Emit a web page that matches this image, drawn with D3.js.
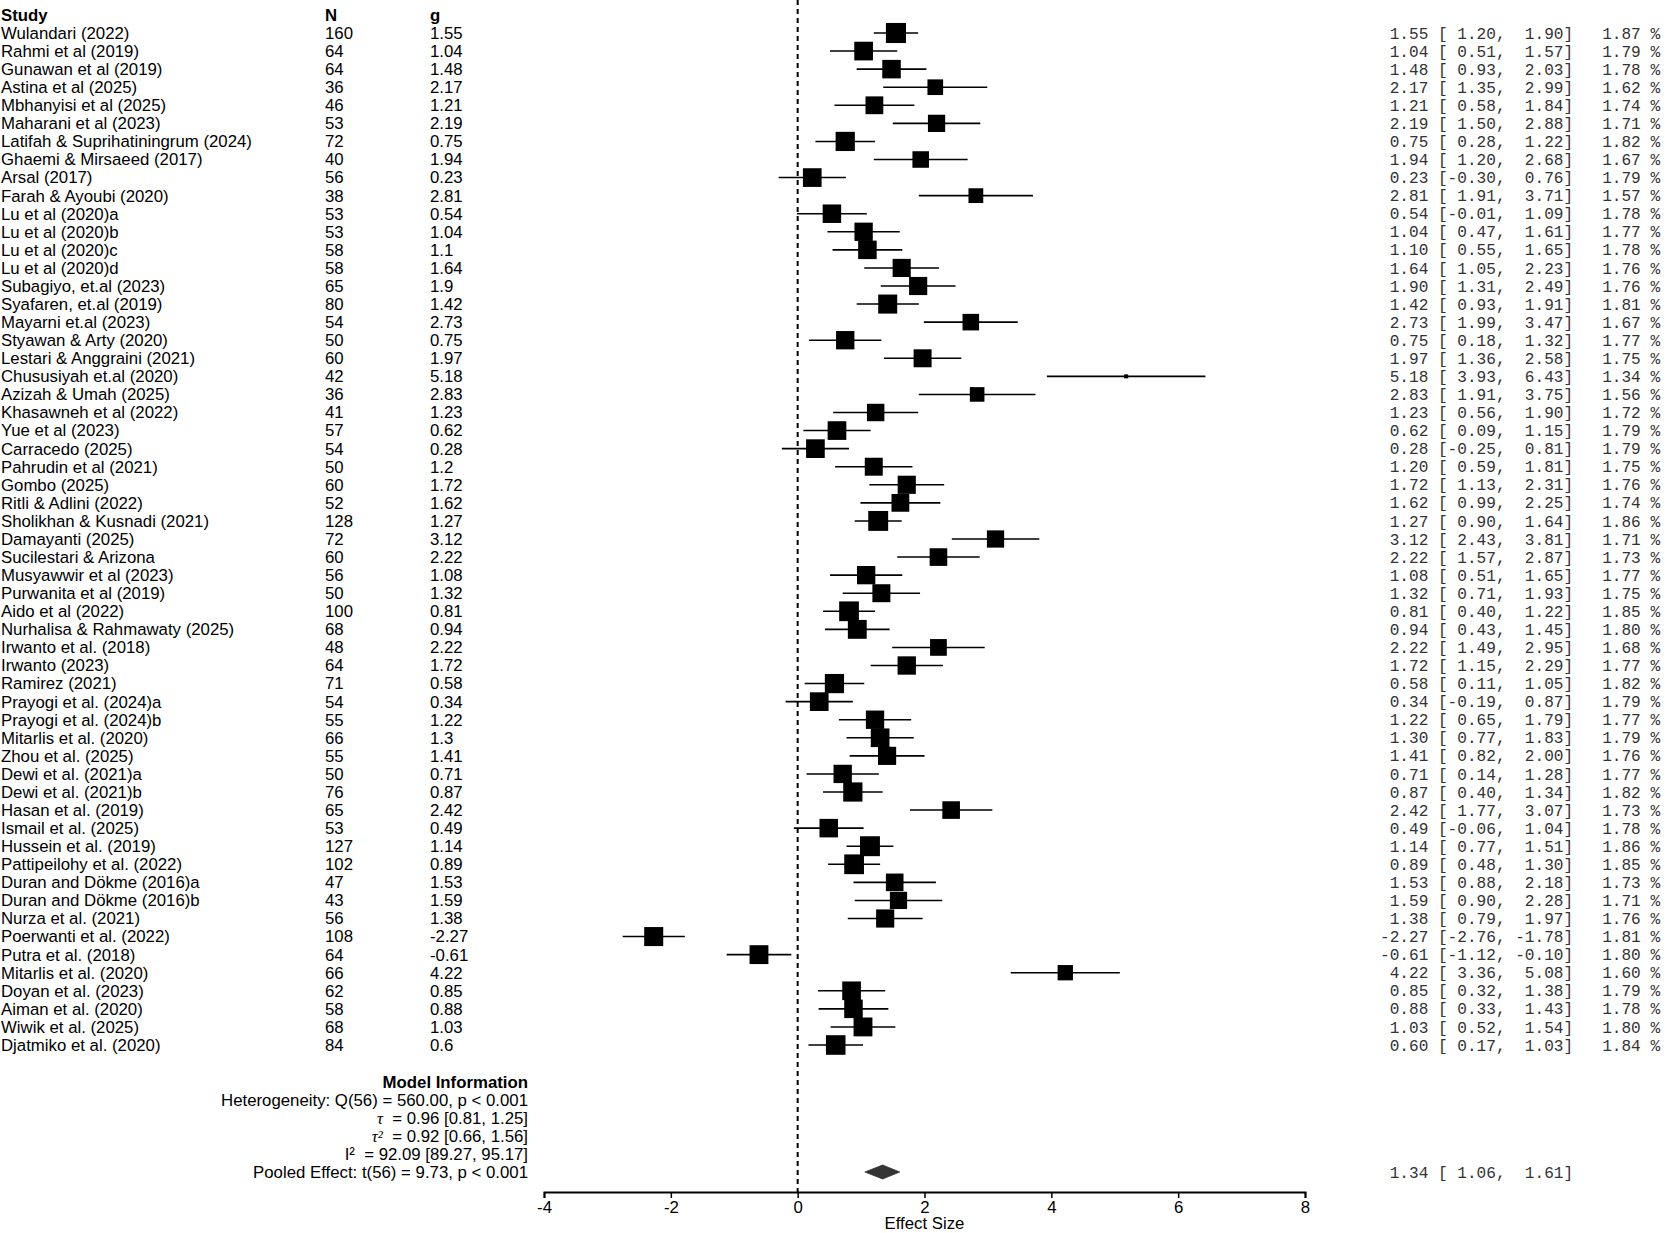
<!DOCTYPE html>
<html>
<head>
<meta charset="utf-8">
<script src="https://cdn.jsdelivr.net/npm/d3@7"></script>
<style>
  body { margin: 0; background: #fff; }
  svg { display: block; }
</style>
</head>
<body>
<svg id="forest" width="1665" height="1233" viewBox="0 0 1665 1233"></svg>
<script>
const studies = [
  "Wulandari (2022)", "Rahmi et al (2019)", "Gunawan et al (2019)", "Astina et al (2025)",
  "Mbhanyisi et al (2025)", "Maharani et al (2023)", "Latifah & Suprihatiningrum (2024)",
  "Ghaemi & Mirsaeed (2017)", "Arsal (2017)", "Farah & Ayoubi (2020)", "Lu et al (2020)a",
  "Lu et al (2020)b", "Lu et al (2020)c", "Lu et al (2020)d", "Subagiyo, et.al (2023)",
  "Syafaren, et.al (2019)", "Mayarni et.al (2023)", "Styawan & Arty (2020)",
  "Lestari & Anggraini (2021)", "Chususiyah et.al (2020)", "Azizah & Umah (2025)",
  "Khasawneh et al (2022)", "Yue et al (2023)", "Carracedo (2025)", "Pahrudin et al (2021)",
  "Gombo (2025)", "Ritli & Adlini (2022)", "Sholikhan & Kusnadi (2021)", "Damayanti (2025)",
  "Sucilestari & Arizona", "Musyawwir et al (2023)", "Purwanita et al (2019)", "Aido et al (2022)",
  "Nurhalisa & Rahmawaty (2025)", "Irwanto et al. (2018)", "Irwanto (2023)", "Ramirez (2021)",
  "Prayogi et al. (2024)a", "Prayogi et al. (2024)b", "Mitarlis et al. (2020)", "Zhou et al. (2025)",
  "Dewi et al. (2021)a", "Dewi et al. (2021)b", "Hasan et al. (2019)", "Ismail et al. (2025)",
  "Hussein et al. (2019)", "Pattipeilohy et al. (2022)", "Duran and Dökme (2016)a",
  "Duran and Dökme (2016)b", "Nurza et al. (2021)", "Poerwanti et al. (2022)", "Putra et al. (2018)",
  "Mitarlis et al. (2020)", "Doyan et al. (2023)", "Aiman et al. (2020)", "Wiwik et al. (2025)",
  "Djatmiko et al. (2020)"
];
const nValues = [160, 64, 64, 36, 46, 53, 72, 40, 56, 38, 53, 53, 58, 58, 65, 80, 54, 50, 60, 42,
  36, 41, 57, 54, 50, 60, 52, 128, 72, 60, 56, 50, 100, 68, 48, 64, 71, 54, 55, 66, 55, 50, 76,
  65, 53, 127, 102, 47, 43, 56, 108, 64, 66, 62, 58, 68, 84];
const gValues = [1.55, 1.04, 1.48, 2.17, 1.21, 2.19, 0.75, 1.94, 0.23, 2.81, 0.54, 1.04, 1.1, 1.64,
  1.9, 1.42, 2.73, 0.75, 1.97, 5.18, 2.83, 1.23, 0.62, 0.28, 1.2, 1.72, 1.62, 1.27, 3.12, 2.22,
  1.08, 1.32, 0.81, 0.94, 2.22, 1.72, 0.58, 0.34, 1.22, 1.3, 1.41, 0.71, 0.87, 2.42, 0.49, 1.14,
  0.89, 1.53, 1.59, 1.38, -2.27, -0.61, 4.22, 0.85, 0.88, 1.03, 0.6];
const ciLower = [1.20, 0.51, 0.93, 1.35, 0.58, 1.50, 0.28, 1.20, -0.30, 1.91, -0.01, 0.47, 0.55,
  1.05, 1.31, 0.93, 1.99, 0.18, 1.36, 3.93, 1.91, 0.56, 0.09, -0.25, 0.59, 1.13, 0.99, 0.90, 2.43,
  1.57, 0.51, 0.71, 0.40, 0.43, 1.49, 1.15, 0.11, -0.19, 0.65, 0.77, 0.82, 0.14, 0.40, 1.77, -0.06,
  0.77, 0.48, 0.88, 0.90, 0.79, -2.76, -1.12, 3.36, 0.32, 0.33, 0.52, 0.17];
const ciUpper = [1.90, 1.57, 2.03, 2.99, 1.84, 2.88, 1.22, 2.68, 0.76, 3.71, 1.09, 1.61, 1.65,
  2.23, 2.49, 1.91, 3.47, 1.32, 2.58, 6.43, 3.75, 1.90, 1.15, 0.81, 1.81, 2.31, 2.25, 1.64, 3.81,
  2.87, 1.65, 1.93, 1.22, 1.45, 2.95, 2.29, 1.05, 0.87, 1.79, 1.83, 2.00, 1.28, 1.34, 3.07, 1.04,
  1.51, 1.30, 2.18, 2.28, 1.97, -1.78, -0.10, 5.08, 1.38, 1.43, 1.54, 1.03];
const weights = [1.87, 1.79, 1.78, 1.62, 1.74, 1.71, 1.82, 1.67, 1.79, 1.57, 1.78, 1.77, 1.78,
  1.76, 1.76, 1.81, 1.67, 1.77, 1.75, 1.34, 1.56, 1.72, 1.79, 1.79, 1.75, 1.76, 1.74, 1.86, 1.71,
  1.73, 1.77, 1.75, 1.85, 1.80, 1.68, 1.77, 1.82, 1.79, 1.77, 1.79, 1.76, 1.77, 1.82, 1.73, 1.78,
  1.86, 1.85, 1.73, 1.71, 1.76, 1.81, 1.80, 1.60, 1.79, 1.78, 1.80, 1.84];
const pooled = { est: 1.34, lo: 1.06, hi: 1.61 };
const modelInfo = [
  "Heterogeneity: Q(56) = 560.00, p < 0.001",
  "τ|  = 0.96 [0.81, 1.25]",
  "τ²|  = 0.92 [0.66, 1.56]",
  "I²  = 92.09 [89.27, 95.17]",
  "Pooled Effect: t(56) = 9.73, p < 0.001"
];
const xTicks = [-4, -2, 0, 2, 4, 6, 8];

const sansFont = "'Liberation Sans', Arial, sans-serif";
const monoFont = "'Liberation Mono', 'Courier New', monospace";
const svg = d3.select("#forest").attr("font-family", sansFont);
const fs = 16.8;

const x = d3.scaleLinear().domain([-4, 8]).range([544, 1305]);
const y = d3.scaleLinear().domain([0, studies.length - 1]).range([33, 1045]);
const boxSize = d3.scaleLinear().domain([1.34, 1.56, 1.87]).range([4, 14.6, 20.1]);

const axisY = 1192;
const pooledY = 1172;

// headers
const head = svg.append("g").attr("font-weight", "bold").attr("font-size", fs);
head.append("text").attr("x", 1).attr("y", 15).attr("dy", "0.35em").text("Study");
head.append("text").attr("x", 325).attr("y", 15).attr("dy", "0.35em").text("N");
head.append("text").attr("x", 430).attr("y", 15).attr("dy", "0.35em").text("g");

// left columns
const rows = svg.append("g").attr("font-size", fs);
studies.forEach((s, i) => {
  rows.append("text").attr("x", 1).attr("y", y(i)).attr("dy", "0.35em").text(s);
  rows.append("text").attr("x", 325).attr("y", y(i)).attr("dy", "0.35em").text(nValues[i]);
  rows.append("text").attr("x", 430).attr("y", y(i)).attr("dy", "0.35em").text(String(gValues[i]));
});

// null line
svg.append("line")
  .attr("x1", x(0)).attr("x2", x(0))
  .attr("y1", 0).attr("y2", axisY)
  .attr("stroke", "#000").attr("stroke-width", 2)
  .attr("stroke-dasharray", "5,4");

// CIs and boxes
const marks = svg.append("g");
gValues.forEach((g, i) => {
  marks.append("line")
    .attr("x1", x(ciLower[i])).attr("x2", x(ciUpper[i]))
    .attr("y1", y(i)).attr("y2", y(i))
    .attr("stroke", "#000").attr("stroke-width", 1.6);
  const s = boxSize(weights[i]);
  marks.append("rect")
    .attr("x", x(g) - s / 2).attr("y", y(i) - s / 2)
    .attr("width", s).attr("height", s)
    .attr("fill", "#000");
});

// pooled diamond
svg.append("path")
  .attr("d", d3.line()([
    [x(pooled.lo), pooledY], [x(pooled.est), pooledY - 7],
    [x(pooled.hi), pooledY], [x(pooled.est), pooledY + 7]
  ]) + "Z")
  .attr("fill", "#333").attr("stroke", "#333").attr("stroke-width", 0.8);

// right column text (monospace, padded like the original)
const fmt = v => d3.format(".2f")(v).replace("−", "-").padStart(5, " ");
const right = svg.append("g")
  .style("font-family", monoFont)
  .style("font-size", "16.1px")
  .style("white-space", "pre")
  .attr("fill", "#333");
gValues.forEach((g, i) => {
  right.append("text").attr("x", 1380).attr("y", y(i)).attr("dy", "0.35em")
    .attr("xml:space", "preserve")
    .text(`${fmt(g)} [${fmt(ciLower[i])}, ${fmt(ciUpper[i])}]   ${weights[i].toFixed(2)} %`);
});
right.append("text").attr("x", 1380).attr("y", pooledY).attr("dy", "0.35em")
  .attr("xml:space", "preserve")
  .text(`${fmt(pooled.est)} [${fmt(pooled.lo)}, ${fmt(pooled.hi)}]`);

// model information
const info = svg.append("g").attr("font-size", fs).attr("text-anchor", "end");
info.append("text").attr("x", 528).attr("y", 1082).attr("dy", "0.35em")
  .attr("font-weight", "bold").text("Model Information");
modelInfo.forEach((m, i) => {
  const t = info.append("text").attr("x", 528).attr("y", 1100 + i * 18).attr("dy", "0.35em")
    .style("white-space", "pre");
  if (m.includes("|")) {
    const [sym, rest] = m.split("|");
    t.append("tspan").attr("font-family", "'Liberation Serif', serif")
      .attr("font-style", "italic").text(sym);
    t.append("tspan").text(rest);
  } else {
    t.text(m);
  }
});

// axis
const axis = svg.append("g")
  .attr("transform", `translate(0,${axisY})`)
  .call(d3.axisBottom(x).tickValues(xTicks).tickSize(6).tickFormat(d3.format("d")));
axis.select(".domain").attr("stroke-width", 2);
axis.selectAll(".tick line").attr("stroke-width", 1.5);
axis.selectAll(".tick text")
  .attr("font-size", fs).attr("fill", "#000")
  .attr("font-family", sansFont)
  .text(d => String(d));

svg.append("text")
  .attr("x", (x(-4) + x(8)) / 2).attr("y", 1229)
  .attr("text-anchor", "middle").attr("font-size", fs)
  .text("Effect Size");
</script>
</body>
</html>
